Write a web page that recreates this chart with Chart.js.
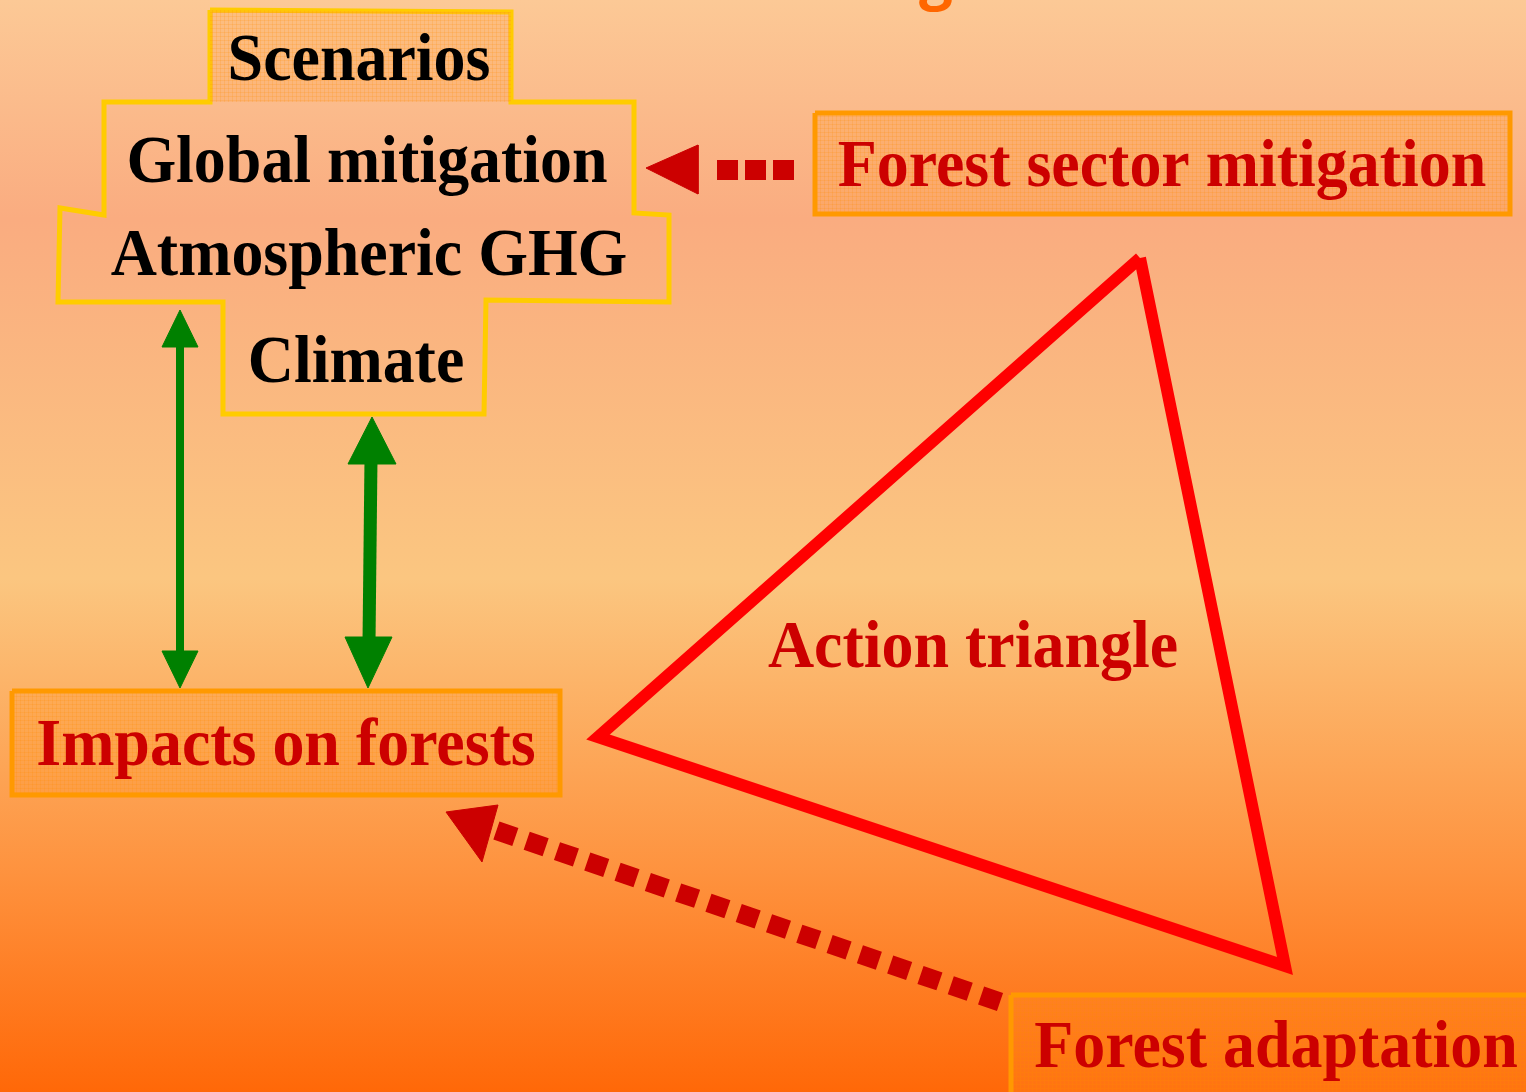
<!DOCTYPE html>
<html>
<head>
<meta charset="utf-8">
<script src="https://cdn.jsdelivr.net/npm/chart.js@4.4.0/dist/chart.umd.min.js"></script>
<style>
  html, body { margin: 0; padding: 0; }
  #wrap { width: 1526px; height: 1092px; position: relative; }
</style>
</head>
<body>
<div id="wrap"><canvas id="diagram"></canvas></div>
<script>
// Diagram geometry in data units (x: 0..1526, y: 0..1092, y pointing down)
const crossOutline = [[210,10],[511,12],[511,102],[634,102],[634,213],[669,215],[669,302],[486,300],[484,414],[223,414],[223,302],[58,302],[60,208],[104,215],[104,102],[210,102],[210,10]];
const scenariosBox = [[210,10],[511,12],[511,102],[210,102],[210,10]];
const sectorBox = [[815,113],[1510,113],[1510,214],[815,214],[815,113]];
const impactsBox = [[12,691],[560,691],[560,795],[12,795],[12,691]];
const adaptationBox = [[1011,995],[1540,995],[1540,1100],[1011,1100],[1011,995]];
const actionTriangle = [[1140,258],[598,737],[1285,966],[1140,258]];

const greenLeftShaft = [[180,340],[180,658]];
const greenLeftHeads = [[[180,310],[162,347],[198,347],[180,310]], [[180,688],[162,651],[198,651],[180,688]]];
const greenRightShaft = [[371,458],[369,642]];
const greenRightHeads = [[[372,417],[348,464],[396,464],[372,417]], [[368,688],[345,637],[392,637],[368,688]]];

const redTopDots = [[717,170],[797,170]];
const redTopHead = [[646,168],[698,145],[698,194],[646,168]];
const redBottomDots = [[1000,1002],[492,829]];
const redBottomHead = [[446,812],[498,805],[482,862],[446,812]];

const boxLabels = ['Scenarios', 'Global mitigation', 'Atmospheric GHG', 'Climate'];
const redLabels = ['Forest sector mitigation', 'Action triangle', 'Impacts on forests', 'Forest adaptation'];

function pts(list) {
  return list.map(function (p) { return { x: p[0], y: p[1] }; });
}

// fine grid texture used in the label boxes
function hatch(base) {
  const c = document.createElement('canvas');
  c.width = 4; c.height = 4;
  const g = c.getContext('2d');
  g.fillStyle = base;
  g.fillRect(0, 0, 4, 4);
  g.fillStyle = 'rgba(255,140,0,0.18)';
  g.fillRect(0, 0, 4, 1);
  g.fillRect(0, 0, 1, 4);
  return g.createPattern(c, 'repeat');
}

function shape(data, color, width, fillColor) {
  return {
    data: pts(data),
    showLine: true,
    pointRadius: 0,
    borderColor: color,
    borderWidth: width,
    borderJoinStyle: 'miter',
    backgroundColor: fillColor || 'transparent',
    fill: fillColor ? 'shape' : false,
    clip: false
  };
}

function head(data, color) {
  return shape(data, color, 1, color);
}

const datasets = [
  shape(scenariosBox, 'transparent', 0, hatch('rgba(255,160,60,0.22)')),
  shape(crossOutline, '#FFCC00', 5),
  shape(sectorBox, '#FF9900', 5, hatch('rgba(255,150,40,0.25)')),
  shape(impactsBox, '#FF9900', 5, hatch('rgba(255,150,40,0.25)')),
  shape(adaptationBox, '#FF9900', 5, hatch('rgba(255,150,40,0.25)')),
  shape(actionTriangle, '#FF0000', 12),
  shape(greenLeftShaft, '#008000', 8),
  head(greenLeftHeads[0], '#008000'),
  head(greenLeftHeads[1], '#008000'),
  shape(greenRightShaft, '#008000', 13),
  head(greenRightHeads[0], '#008000'),
  head(greenRightHeads[1], '#008000'),
  Object.assign(shape(redTopDots, '#CC0000', 20), { borderDash: [21, 7], borderCapStyle: 'butt' }),
  head(redTopHead, '#CC0000'),
  Object.assign(shape(redBottomDots, '#CC0000', 19), { borderDash: [20, 12], borderCapStyle: 'butt' }),
  head(redBottomHead, '#CC0000')
];

const backdrop = {
  id: 'backdrop',
  beforeDraw: function (chart) {
    const ctx = chart.ctx;
    const h = chart.height;
    const gr = ctx.createLinearGradient(0, 0, 0, h);
    gr.addColorStop(0, 'rgb(252,201,150)');
    gr.addColorStop(0.2, 'rgb(250,172,128)');
    gr.addColorStop(0.53, 'rgb(251,198,128)');
    gr.addColorStop(0.8, 'rgb(254,146,62)');
    gr.addColorStop(1, 'rgb(255,104,8)');
    ctx.save();
    ctx.fillStyle = gr;
    ctx.fillRect(0, 0, chart.width, h);
    ctx.restore();
  }
};

const labelPlugin = {
  id: 'labels',
  afterDatasetsDraw: function (chart, args, opts) {
    const ctx = chart.ctx;
    const sx = chart.scales.x, sy = chart.scales.y;
    ctx.save();
    ctx.font = 'bold 68px "Liberation Serif", "Times New Roman", serif';
    ctx.textAlign = 'center';
    ctx.textBaseline = 'alphabetic';
    opts.items.forEach(function (it) {
      const px = sx.getPixelForValue(it.x);
      const py = sy.getPixelForValue(it.y);
      ctx.save();
      ctx.translate(px, py);
      ctx.scale(0.94, 1);
      ctx.fillStyle = it.color;
      ctx.fillText(it.text, 0, 0);
      ctx.restore();
    });
    // tail of the clipped slide title
    ctx.font = 'bold 60px "Open Sans", sans-serif';
    ctx.fillStyle = '#FF6600';
    ctx.fillText('g', sx.getPixelForValue(936), sy.getPixelForValue(-3));
    ctx.restore();
  }
};

new Chart(document.getElementById('diagram').getContext('2d'), {
  type: 'scatter',
  data: { datasets: datasets },
  options: {
    responsive: true,
    maintainAspectRatio: false,
    animation: false,
    layout: { padding: 0 },
    scales: {
      x: { type: 'linear', min: 0, max: 1526, display: false },
      y: { type: 'linear', min: 0, max: 1092, reverse: true, display: false }
    },
    plugins: {
      legend: { display: false },
      tooltip: { enabled: false },
      labels: {
        items: [
          { text: boxLabels[0], x: 359, y: 80, color: '#000000' },
          { text: boxLabels[1], x: 367, y: 182, color: '#000000' },
          { text: boxLabels[2], x: 369, y: 275, color: '#000000' },
          { text: boxLabels[3], x: 356, y: 382, color: '#000000' },
          { text: redLabels[0], x: 1162, y: 186, color: '#CC0000' },
          { text: redLabels[1], x: 973, y: 667, color: '#CC0000' },
          { text: redLabels[2], x: 286, y: 765, color: '#CC0000' },
          { text: redLabels[3], x: 1276, y: 1067, color: '#CC0000' }
        ]
      }
    }
  },
  plugins: [backdrop, labelPlugin]
});
</script>
</body>
</html>
